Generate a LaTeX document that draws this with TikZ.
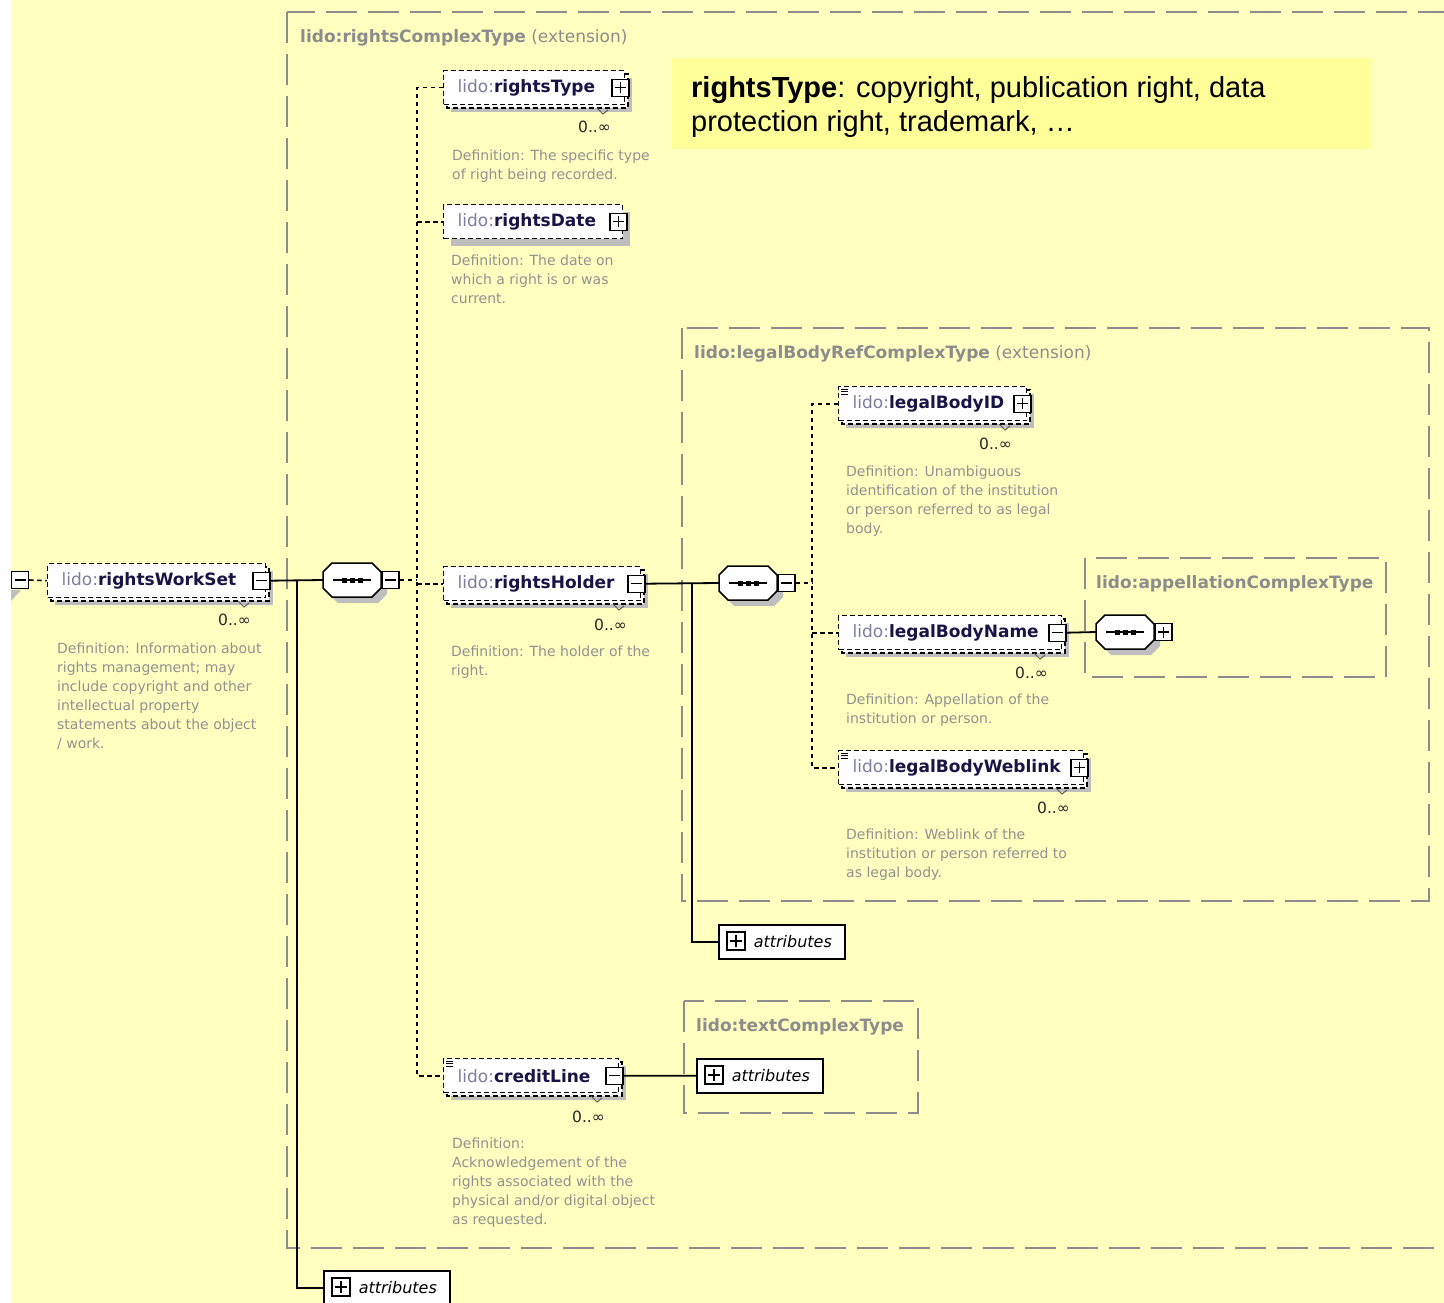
\documentclass[tikz,border=0pt]{standalone}
\usepackage{fontspec}
\setmainfont{DejaVu Sans}
\newfontfamily\notefont{Liberation Sans}
\definecolor{bgy}{RGB}{255,255,192}
\definecolor{notey}{RGB}{255,255,153}
\definecolor{typeg}{RGB}{140,140,140}
\definecolor{defg}{RGB}{145,145,145}
\definecolor{shad}{RGB}{190,190,190}
\definecolor{pfx}{RGB}{125,125,160}
\definecolor{loc}{RGB}{25,20,70}
\tikzset{
 elbox/.style={draw=black, fill=white, line width=1.4pt, dash pattern=on 5pt off 3pt, minimum height=34pt, inner sep=0pt, anchor=north west, font=\fontsize{17}{20}\selectfont},
 elback/.style={draw=black, fill=white, line width=1.4pt, dash pattern=on 5pt off 3pt},
 btn/.style={draw=black, fill=white, line width=1.3pt, minimum size=17pt, inner sep=0pt},
 conn/.style={line width=1.8pt, black},
 dconn/.style={line width=1.6pt, black, dash pattern=on 4.5pt off 3.5pt},
 typebox/.style={draw=typeg, line width=2pt, dash pattern=on 31pt off 11pt},
 typelbl/.style={text=typeg, font=\fontsize{17}{20}\selectfont, inner sep=0pt, anchor=base west},
 defn/.style={text=defg, font=\fontsize{14}{19}\selectfont, align=left, inner sep=0pt, anchor=north west},
 occ/.style={text=black!85, font=\fontsize{15.5}{18}\selectfont, inner sep=0pt, anchor=base east},
 attrbox/.style={draw=black, fill=white, line width=1.5pt, minimum height=34pt, inner sep=0pt, anchor=north west, font=\fontsize{16}{19}\selectfont\itshape},
 seqnode/.style={minimum width=58pt, minimum height=34pt, inner sep=0pt},
}
% #1 id #2 x #3 y #4 w #5 local name #6 sign p/m #7 stacked #8 text icon
\newcommand\xel[8]{%
 \fill[shad] (#2+8,#3+8) rectangle (#2+#4+8,#3+42);
 \ifnum#7=1 \draw[elback] (#2+4,#3+4) rectangle (#2+#4+4,#3+38);
   \draw[line width=1pt, black!65] (#2+#4-27,#3+38) -- (#2+#4-21,#3+44) -- (#2+#4-16,#3+40);\fi
 \node[elbox] (#1) at (#2,#3) {\hbox to #4pt{\hspace{14pt}\textcolor{pfx}{lido:}\textcolor{loc}{\bfseries #5}\hfil}};
 \ifnum#8=1 \foreach \k in {3,5.5,8} \draw[line width=0.8pt] (#2+3,#3+\k) -- (#2+10,#3+\k);\fi
 \node[btn] (#1b) at ([xshift=-5pt]#1.east) {};
 \draw[line width=1.4pt] ([xshift=-5.5pt]#1b.center) -- ([xshift=5.5pt]#1b.center);
 \ifx#6p\draw[line width=1.4pt] ([yshift=-5.5pt]#1b.center) -- ([yshift=5.5pt]#1b.center);\fi
}
% #1 id #2 cx #3 cy #4 sign
\newcommand\xseq[4]{%
 \fill[shad] (#2-14,#3-11) -- (#2+26,#3-11) -- (#2+35,#3-2) -- (#2+35,#3+14) -- (#2+26,#3+23) -- (#2-14,#3+23) -- (#2-23,#3+14) -- (#2-23,#3-2) -- cycle;
 \draw[line width=1.5pt, fill=white] (#2-20,#3-17) -- (#2+20,#3-17) -- (#2+29,#3-8) -- (#2+29,#3+8) -- (#2+20,#3+17) -- (#2-20,#3+17) -- (#2-29,#3+8) -- (#2-29,#3-8) -- cycle;
 \node[seqnode] (#1) at (#2,#3) {};
 \draw[line width=1.5pt] (#2-19,#3) -- (#2+19,#3);
 \foreach \d in {-8,0,8} \fill (#2+\d-2.5,#3-2.5) rectangle (#2+\d+2.5,#3+2.5);
 \node[btn] (#1b) at (#2+38.5,#3) {};
 \draw[line width=1.4pt] ([xshift=-5.5pt]#1b.center) -- ([xshift=5.5pt]#1b.center);
 \ifx#4p\draw[line width=1.4pt] ([yshift=-5.5pt]#1b.center) -- ([yshift=5.5pt]#1b.center);\fi
}
\newcommand\xattr[3]{%
 \node[attrbox] (#1) at (#2,#3) {\hbox to 126pt{\hspace{35pt}attributes\hfil}};
 \draw[line width=1.3pt, fill=white] (#2+9,#3+8) rectangle (#2+27,#3+26);
 \draw[line width=1.3pt] (#2+12,#3+17) -- (#2+24,#3+17) (#2+18,#3+11) -- (#2+18,#3+23);
}
\newcommand\xdefn[4]{\node[defn] (#1) at (#2,#3-13.3) {\strut #4};}
\newcommand\xocc[3]{\node[occ] (#1) at (#2,#3) {0..∞};}
\begin{document}
\begin{tikzpicture}[x=1pt,y=-1pt]
\useasboundingbox (0,0) rectangle (1444,1303);
\clip (0,0) rectangle (1444,1303);
\fill[white] (0,0) rectangle (1444,1303);
\fill[bgy] (11,0) rectangle (1444,1303);
% type boxes
\draw[typebox] (287,12) rectangle (1480,1248);
\node[typelbl] (t1) at (300,43) {\textbf{lido:rightsComplexType} (extension)};
\draw[typebox] (682,328) rectangle (1429,901);
\node[typelbl] (t2) at (694,358) {\textbf{lido:legalBodyRefComplexType} (extension)};
\draw[typebox] (1085,558) rectangle (1386,677);
\node[typelbl] (t3) at (1096,588) {\textbf{lido:appellationComplexType}};
\draw[typebox] (684,1001) rectangle (918,1113);
\node[typelbl] (t4) at (696,1031) {\textbf{lido:textComplexType}};
% note
\fill[notey] (672,58) rectangle (1371,149);
\node[anchor=north west, inner sep=0pt, align=left, font=\notefont\fontsize{29}{34}\selectfont] (note) at (691,73.2) {\strut\textbf{rightsType}: copyright, publication right, data\\protection right, trademark, …};
% root
\fill[shad] (11,590) -- (21,590) -- (11,601) -- cycle;
\node[btn] (root) at (20,580) {};
\draw[line width=1.4pt] ([xshift=-5.5pt]root.center) -- ([xshift=5.5pt]root.center);
% elements
\xel{rwset}{47}{563}{218}{rightsWorkSet}{m}{1}{0}
\xocc{o1}{251}{625}
\xdefn{d1}{57}{653}{Definition: Information about\\rights management; may\\include copyright and other\\intellectual property\\statements about the object\\/ work.}
\xel{rtype}{443}{70}{181}{rightsType}{p}{1}{0}
\xocc{o2}{611}{133}
\xdefn{d2}{452}{160}{Definition: The specific type\\of right being recorded.}
\xel{rdate}{443}{204}{179}{rightsDate}{p}{0}{0}
\xdefn{d3}{451}{265}{Definition: The date on\\which a right is or was\\current.}
\xel{rholder}{443}{566}{197}{rightsHolder}{m}{1}{0}
\xocc{o4}{627}{630}
\xdefn{d4}{451}{656}{Definition: The holder of the\\right.}
\xel{credit}{443}{1058}{175}{creditLine}{m}{1}{1}
\xocc{o5}{605}{1122}
\xdefn{d5}{452}{1148}{Definition:\\Acknowledgement of the\\rights associated with the\\physical and/or digital object\\as requested.}
\xel{lbid}{838}{386}{188}{legalBodyID}{p}{1}{1}
\xocc{o6}{1012}{449}
\xdefn{d6}{846}{476}{Definition: Unambiguous\\identification of the institution\\or person referred to as legal\\body.}
\xel{lbname}{838}{615}{223}{legalBodyName}{m}{1}{0}
\xocc{o7}{1048}{678}
\xdefn{d7}{846}{704}{Definition: Appellation of the\\institution or person.}
\xel{lbweb}{838}{750}{245}{legalBodyWeblink}{p}{1}{1}
\xocc{o8}{1070}{813}
\xdefn{d8}{846}{839}{Definition: Weblink of the\\institution or person referred to\\as legal body.}
% sequences
\xseq{seq1}{352}{580}{m}
\xseq{seq2}{748}{583}{m}
\xseq{seq3}{1125}{632}{p}
% attributes
\xattr{attr1}{718}{924}
\xattr{attr2}{696}{1058}
\xattr{attr3}{323}{1270}
% connectors
\coordinate (v1) at (417,0);
\coordinate (v2) at (812,0);
\coordinate (j1) at (297,580);
\coordinate (j2) at (692,583);
\draw[dconn] (root.east) -- (rwset.west);
\draw[conn] (rwsetb.east) -- (seq1.west);
\draw[conn] (j1) |- (attr3.west);
\draw[dconn] (seq1b.east) -- (seq1b.east -| v1);
\draw[dconn] (rtype.west) -- (rtype.west -| v1) -- (credit.west -| v1) -- (credit.west);
\draw[dconn] (rdate.west -| v1) -- (rdate.west);
\draw[dconn] (rholder.west -| v1) -- (rholder.west);
\draw[conn] (rholderb.east) -- (seq2.west);
\draw[conn] (j2) |- (attr1.west);
\draw[dconn] (seq2b.east) -- (seq2b.east -| v2);
\draw[dconn] (lbid.west) -- (lbid.west -| v2) -- (lbweb.west -| v2) -- (lbweb.west);
\draw[dconn] (lbname.west -| v2) -- (lbname.west);
\draw[conn] (lbnameb.east) -- (seq3.west);
\draw[conn] (creditb.east) -- (attr2.west);
\end{tikzpicture}
\end{document}
